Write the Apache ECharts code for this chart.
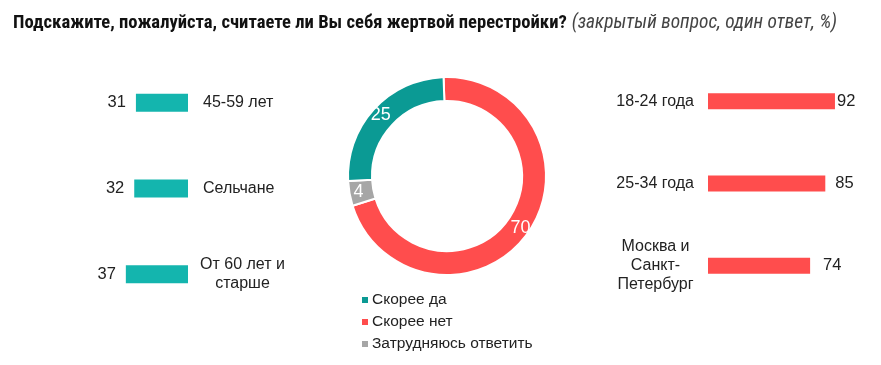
<!DOCTYPE html>
<html><head><meta charset="utf-8">
<script src="https://cdn.jsdelivr.net/npm/echarts@6/dist/echarts.min.js"></script>
<style>html,body{margin:0;padding:0;background:#fff}#c{width:881px;height:365px}</style>
</head><body><div id="c"></div>
<script>
const titleMain = 'Подскажите, пожалуйста, считаете ли Вы себя жертвой перестройки?';
const titleNote = '(закрытый вопрос, один ответ, %)';

const leftCats = ['45-59 лет', 'Сельчане', 'От 60 лет и\nстарше'];
const leftVals = [31, 32, 37];

const rightCats = ['18-24 года', '25-34 года', 'Москва и\nСанкт-\nПетербург'];
const rightVals = [92, 85, 74];
const rightLabelGaps = [2, 10, 13];

const pieNames = ['Скорее нет', 'Затрудняюсь ответить', 'Скорее да'];
const pieVals = [70, 4, 25];
const legendOrder = ['Скорее да', 'Скорее нет', 'Затрудняюсь ответить'];

const FONT = "'Liberation Sans', Arial, sans-serif";
const TFONT = "'Roboto Condensed', 'DejaVu Sans Condensed', sans-serif";
const TEAL_BAR = '#14b5ae';
const TEAL = '#0b9a94';
const RED = '#ff4d4d';
const GRAY = '#a6a6a6';
const pieColors = {'Скорее нет': RED, 'Затрудняюсь ответить': GRAY, 'Скорее да': TEAL};

function catFmt(v) {
  if (v.indexOf('\n') >= 0) return v.split('\n').map(s => '{c|' + s + '}').join('\n');
  return '{l|' + v + '}';
}

const chart = echarts.init(document.getElementById('c'));
chart.setOption({
  animation: false,
  title: {
    left: 8, top: 9,
    text: '{b|' + titleMain + '} {i|' + titleNote + '}',
    textStyle: {
      fontWeight: 'normal',
      rich: {
        b: {fontFamily: TFONT, fontWeight: 'bold', fontSize: 18.6, color: '#111'},
        i: {fontFamily: TFONT, fontWeight: 'normal', fontStyle: 'italic', fontSize: 19.4, color: '#444'}
      }
    }
  },
  legend: {
    orient: 'vertical', left: 355, top: 287, itemGap: 6,
    itemWidth: 8, itemHeight: 8, icon: 'rect',
    data: legendOrder,
    textStyle: {fontFamily: FONT, fontSize: 15.5, color: '#222', padding: [0, 0, 0, -2]}
  },
  grid: [
    {left: 20, width: 168, top: 60, height: 257},
    {left: 708, width: 138, top: 60, height: 247}
  ],
  xAxis: [
    {gridIndex: 0, type: 'value', min: 0, max: 100, inverse: true, show: false},
    {gridIndex: 1, type: 'value', min: 0, max: 100, show: false}
  ],
  yAxis: [
    {gridIndex: 0, type: 'category', data: leftCats, inverse: true, position: 'right',
     axisLine: {show: false}, axisTick: {show: false},
     axisLabel: {margin: 15, align: 'left', color: '#222', fontFamily: FONT, fontSize: 16,
       formatter: catFmt,
       rich: {l: {fontFamily: FONT, fontSize: 16, color: '#222'},
              c: {fontFamily: FONT, fontSize: 16, color: '#222', width: 79, align: 'center', lineHeight: 19}}}},
    {gridIndex: 1, type: 'category', data: rightCats, inverse: true, position: 'left',
     axisLine: {show: false}, axisTick: {show: false},
     axisLabel: {margin: 14, align: 'right', color: '#222', fontFamily: FONT, fontSize: 16,
       formatter: catFmt,
       rich: {l: {fontFamily: FONT, fontSize: 16, color: '#222'},
              c: {fontFamily: FONT, fontSize: 16, color: '#222', width: 77, align: 'center', lineHeight: 19}}}}
  ],
  series: [
    {type: 'bar', xAxisIndex: 0, yAxisIndex: 0, barWidth: 18,
     itemStyle: {color: TEAL_BAR},
     label: {show: true, position: 'left', distance: 10, color: '#222', fontFamily: FONT, fontSize: 16.5},
     data: leftVals},
    {type: 'bar', xAxisIndex: 1, yAxisIndex: 1, barWidth: 16,
     itemStyle: {color: RED},
     label: {show: true, position: 'right', color: '#222', fontFamily: FONT, fontSize: 16.5},
     data: rightVals.map((v, i) => ({value: v, label: {distance: rightLabelGaps[i]}}))},
    {type: 'pie', center: [447, 176], radius: [75, 99], startAngle: 92,
     itemStyle: {borderColor: '#fff', borderWidth: 2},
     label: {show: true, position: 'inside', formatter: '{c}', color: '#fff', fontFamily: FONT, fontSize: 18},
     labelLine: {show: false},
     emphasis: {disabled: true},
     data: pieNames.map((n, i) => ({name: n, value: pieVals[i], itemStyle: {color: pieColors[n]}}))}
  ]
});
</script></body></html>
